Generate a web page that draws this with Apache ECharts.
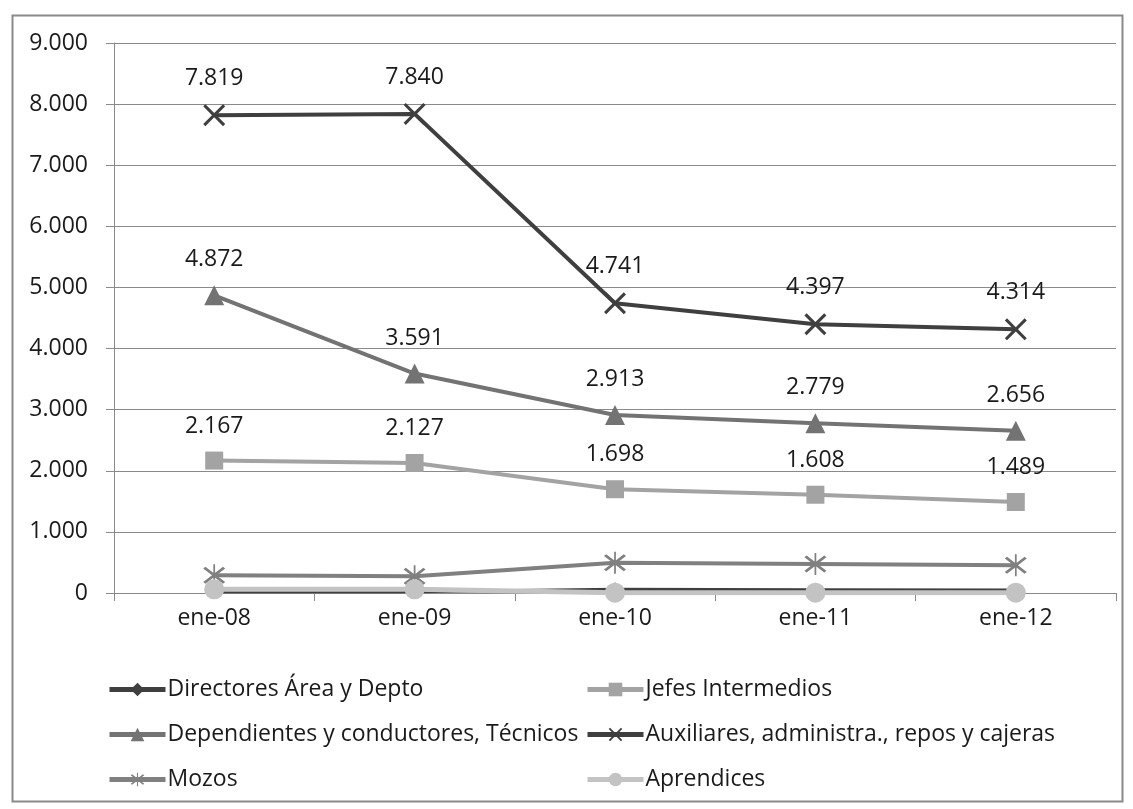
<!DOCTYPE html>
<html>
<head>
<meta charset="utf-8">
<script src="https://cdn.jsdelivr.net/npm/echarts@6/dist/echarts.min.js"></script>
<style>
  html, body { margin: 0; padding: 0; background: #fff; }
  #chart { width: 1133px; height: 809px; }
</style>
</head>
<body>
<div id="chart"></div>
<script>
// Plantilla por categoría profesional, enero de cada año
const categories = ['ene-08', 'ene-09', 'ene-10', 'ene-11', 'ene-12'];
const directores = [20, 20, 60, 55, 50];
const jefes = [2167, 2127, 1698, 1608, 1489];
const dependientes = [4872, 3591, 2913, 2779, 2656];
const auxiliares = [7819, 7840, 4741, 4397, 4314];
const mozos = [290, 275, 495, 475, 455];
const aprendices = [60, 60, 5, 5, 5];

const names = {
  directores: 'Directores Área y Depto',
  jefes: 'Jefes Intermedios',
  dependientes: 'Dependientes y conductores, Técnicos',
  auxiliares: 'Auxiliares, administra., repos y cajeras',
  mozos: 'Mozos',
  aprendices: 'Aprendices'
};

const FONT = '"Open Sans", "Noto Sans", sans-serif';
const FS = 23;
const fmt = v => String(Math.round(v)).replace(/\B(?=(\d{3})+(?!\d))/g, '.');

const crossPath = 'path://M0,1L1,0L5,4L9,0L10,1L6,5L10,9L9,10L5,6L1,10L0,9L4,5Z';
const starPath = 'path://M0,1L1,0L5,4L9,0L10,1L6,5L10,9L9,10L5,6L1,10L0,9L4,5Z M4.6,-1.5L5.4,-1.5L5.4,11.5L4.6,11.5Z';

function line(name, data, color, symbol, size, width, withLabel) {
  return {
    name: name,
    type: 'line',
    data: data,
    symbol: symbol,
    symbolSize: size,
    lineStyle: { color: color, width: width },
    itemStyle: { color: color },
    label: withLabel ? {
      show: true, position: 'top', distance: 14,
      color: '#1a1a1a', fontSize: FS, fontFamily: FONT,
      formatter: p => fmt(p.value)
    } : { show: false },
    emphasis: { disabled: true },
    z: 3
  };
}

const legendCommon = {
  orient: 'vertical', top: 673, itemGap: 22,
  itemWidth: 56, itemHeight: 17,
  lineStyle: { width: 5 },
  textStyle: { color: '#1a1a1a', fontSize: FS, fontFamily: FONT, padding: [0, 0, 0, -3] }
};

const chart = echarts.init(document.getElementById('chart'), null, { renderer: 'canvas' });
chart.setOption({
  animation: false,
  backgroundColor: '#fff',
  graphic: [{
    type: 'rect', left: 10, top: 13,
    shape: { width: 1110, height: 786 },
    style: { fill: 'none', stroke: '#8a8a8a', lineWidth: 2 },
    silent: true
  }],
  grid: { left: 114, right: 17, top: 43, bottom: 216 },
  xAxis: {
    type: 'category',
    data: categories,
    boundaryGap: true,
    axisLine: { lineStyle: { color: '#8a8a8a', width: 1 } },
    axisTick: { show: true, length: 8, lineStyle: { color: '#8a8a8a' } },
    axisLabel: { color: '#1a1a1a', fontSize: FS, fontFamily: FONT, margin: 14 }
  },
  yAxis: {
    type: 'value',
    min: 0, max: 9000, interval: 1000,
    axisLine: { show: true, lineStyle: { color: '#8a8a8a', width: 1 } },
    axisTick: { show: true, length: 8, lineStyle: { color: '#8a8a8a' } },
    splitLine: { lineStyle: { color: '#8a8a8a', width: 1 } },
    axisLabel: { color: '#1a1a1a', fontSize: FS, fontFamily: FONT, margin: 26, formatter: fmt }
  },
  legend: [
    Object.assign({ left: 102, data: [names.directores, names.dependientes, names.mozos] }, legendCommon),
    Object.assign({ left: 580, data: [names.jefes, names.auxiliares, names.aprendices] }, legendCommon)
  ],
  series: [
    line(names.directores, directores, '#3f3f3f', 'diamond', 14, 3, false),
    line(names.jefes, jefes, '#a3a3a3', 'rect', 18, 4, true),
    line(names.dependientes, dependientes, '#737373', 'triangle', 20, 4, true),
    line(names.auxiliares, auxiliares, '#3f3f3f', crossPath, 22, 4, true),
    line(names.mozos, mozos, '#808080', starPath, 22, 4, false),
    line(names.aprendices, aprendices, '#c3c3c3', 'circle', 20, 5, false)
  ]
});
</script>
</body>
</html>
